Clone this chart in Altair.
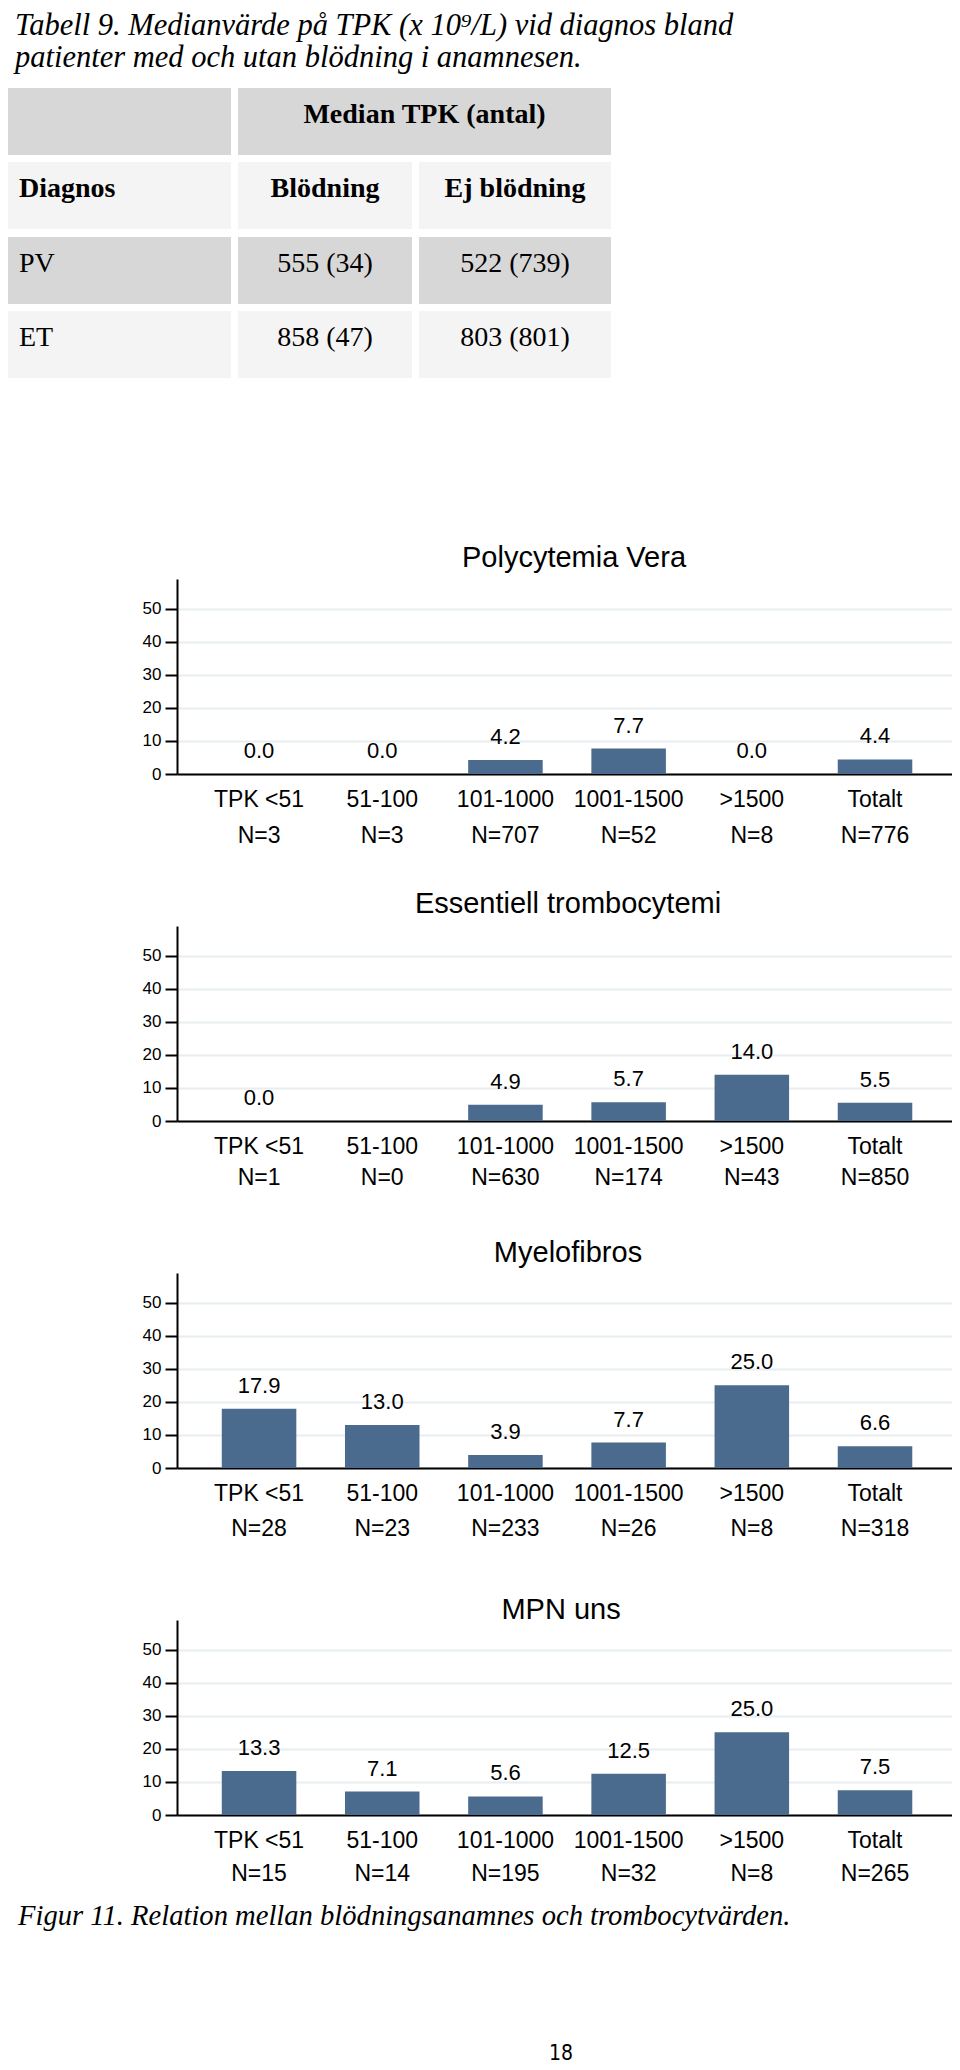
import altair as alt
import pandas as pd

# ---------------- data ----------------
categories = ["TPK <51", "51-100", "101-1000", "1001-1500", ">1500", "Totalt"]
panel_titles = ["Polycytemia Vera", "Essentiell trombocytemi", "Myelofibros", "MPN uns"]

pv_values = [0.0, 0.0, 4.2, 7.7, 0.0, 4.4]
pv_n = [3, 3, 707, 52, 8, 776]
et_values = [0.0, None, 4.9, 5.7, 14.0, 5.5]
et_n = [1, 0, 630, 174, 43, 850]
mf_values = [17.9, 13.0, 3.9, 7.7, 25.0, 6.6]
mf_n = [28, 23, 233, 26, 8, 318]
mpn_values = [13.3, 7.1, 5.6, 12.5, 25.0, 7.5]
mpn_n = [15, 14, 195, 32, 8, 265]

y_ticks = [0, 10, 20, 30, 40, 50]

title_lines = [
    "Tabell 9. Medianvärde på TPK (x 10⁹/L) vid diagnos bland",
    "patienter med och utan blödning i anamnesen.",
]
table_group_header = "Median TPK (antal)"
table_col_headers = ["Diagnos", "Blödning", "Ej blödning"]
table_diagnoses = ["PV", "ET"]
table_bleeding = ["555 (34)", "858 (47)"]
table_no_bleeding = ["522 (739)", "803 (801)"]

caption = "Figur 11. Relation mellan blödningsanamnes och trombocytvärden."
page_number = "18"

# ---------------- style / layout ----------------
PLOT_LEFT = 177          # page x of the plot areas
TOP = 8                  # page y of the first view
PLOT_W = 775
PLOT_H = 195
YMAX = 59
SPACING = 152
HEADER_H = 419

BAR = "#4a6b8d"
GRID = "#e8eef0"
SANS = "Liberation Sans"
SERIF = "Liberation Serif"
GRAY = "#d7d7d7"
LIGHT = "#f4f4f4"

# table geometry (page coordinates)
col_edges = [(8, 231), (238, 412), (419, 611)]
row_edges = [(88, 155), (162, 229), (237, 304), (311, 378)]
row_fills = [GRAY, LIGHT, GRAY, LIGHT]
text_left_x = 19
baseline_off = 35


def rx(px):
    return px - PLOT_LEFT


def ry(py):
    return py - TOP


# ---------------- header (title + table) ----------------
rect_rows = []
for r, (y0, y1) in enumerate(row_edges):
    if r == 0:
        spans = [col_edges[0], (col_edges[1][0], col_edges[2][1])]
    else:
        spans = col_edges
    for (x0, x1) in spans:
        rect_rows.append({"x0": rx(x0), "x1": rx(x1), "y0": ry(y0), "y1": ry(y1), "fill": row_fills[r]})
rect_df = pd.DataFrame(rect_rows)

cells = alt.Chart(rect_df).mark_rect().encode(
    x=alt.X("x0:Q", scale=None), x2="x1:Q",
    y=alt.Y("y0:Q", scale=None), y2="y1:Q",
    color=alt.Color("fill:N", scale=None),
)

text_rows = []
c2 = (col_edges[1][0] + col_edges[1][1]) / 2
c3 = (col_edges[2][0] + col_edges[2][1]) / 2
cg = (col_edges[1][0] + col_edges[2][1]) / 2
text_rows.append({"t": table_group_header, "x": rx(cg), "y": ry(row_edges[0][0] + baseline_off), "a": "center", "w": "bold"})
text_rows.append({"t": table_col_headers[0], "x": rx(text_left_x), "y": ry(row_edges[1][0] + baseline_off), "a": "left", "w": "bold"})
text_rows.append({"t": table_col_headers[1], "x": rx(c2), "y": ry(row_edges[1][0] + baseline_off), "a": "center", "w": "bold"})
text_rows.append({"t": table_col_headers[2], "x": rx(c3), "y": ry(row_edges[1][0] + baseline_off), "a": "center", "w": "bold"})
for i, (d, b, nb) in enumerate(zip(table_diagnoses, table_bleeding, table_no_bleeding)):
    yb = ry(row_edges[2 + i][0] + baseline_off)
    text_rows.append({"t": d, "x": rx(text_left_x), "y": yb, "a": "left", "w": "normal"})
    text_rows.append({"t": b, "x": rx(c2), "y": yb, "a": "center", "w": "normal"})
    text_rows.append({"t": nb, "x": rx(c3), "y": yb, "a": "center", "w": "normal"})
tdf = pd.DataFrame(text_rows)


def table_text(align, weight):
    sub = tdf[(tdf.a == align) & (tdf.w == weight)]
    return alt.Chart(sub).mark_text(
        align=align, baseline="alphabetic", font=SERIF, fontSize=28,
        fontWeight=weight, color="black",
    ).encode(x=alt.X("x:Q", scale=None), y=alt.Y("y:Q", scale=None), text="t:N")


title_df = pd.DataFrame({"t": title_lines, "y": [ry(35), ry(67)]})
title_text = alt.Chart(title_df).mark_text(
    align="left", baseline="alphabetic", font=SERIF, fontSize=30.5,
    fontStyle="italic", color="black",
).encode(x=alt.value(rx(15)), y=alt.Y("y:Q", scale=None), text="t:N")

header = alt.layer(
    cells,
    table_text("center", "bold"), table_text("left", "bold"),
    table_text("center", "normal"), table_text("left", "normal"),
    title_text,
).properties(width=PLOT_W, height=HEADER_H)


# ---------------- bar panels ----------------
def y_axis():
    return alt.Axis(
        values=y_ticks, title=None, grid=True, gridColor=GRID, gridWidth=2,
        domainColor="black", domainWidth=2, tickColor="black", tickWidth=2,
        tickSize=12, labelFont=SANS, labelFontSize=17, labelColor="black",
        labelPadding=4, labelOverlap=False, labelFlush=False,
    )


def x_axis():
    return alt.Axis(labels=False, ticks=False, title=None, grid=False,
                    domainColor="black", domainWidth=2)


def panel(title, values, ns, title_x, title_y, n_dy):
    df = pd.DataFrame({
        "cat": categories,
        "value": values,
        "nlab": [f"N={n}" for n in ns],
    })
    xscale = alt.Scale(paddingInner=0.395, paddingOuter=0.343, align=0.53)
    yscale = alt.Scale(domain=[0, YMAX], nice=False, zero=True)
    xenc = alt.X("cat:N", sort=categories, scale=xscale, axis=x_axis())
    yenc = alt.Y("value:Q", scale=yscale, axis=y_axis())
    bars = alt.Chart(df).mark_bar(color=BAR).encode(x=xenc, y=yenc)
    vals = alt.Chart(df).transform_filter("isValid(datum.value)").mark_text(
        baseline="alphabetic", dy=-16, font=SANS, fontSize=22, color="black",
    ).encode(
        x=xenc, y=yenc,
        text=alt.Text("value:Q", format=".1f"),
    )
    cats = alt.Chart(df).mark_text(
        baseline="alphabetic", font=SANS, fontSize=23, color="black",
    ).encode(x=xenc, y=alt.value(PLOT_H + 33), text="cat:N")
    nls = alt.Chart(df).mark_text(
        baseline="alphabetic", font=SANS, fontSize=23, color="black",
    ).encode(x=xenc, y=alt.value(PLOT_H + n_dy), text="nlab:N")
    ttl = alt.Chart(pd.DataFrame({"t": [title]})).mark_text(
        baseline="alphabetic", align="center", font=SANS, fontSize=29, color="black",
    ).encode(x=alt.value(title_x), y=alt.value(title_y), text="t:N")
    return alt.layer(bars, vals, cats, nls, ttl).properties(width=PLOT_W, height=PLOT_H)


p1 = panel(panel_titles[0], pv_values, pv_n, 397, -12, 69)
p2 = panel(panel_titles[1], et_values, et_n, 391, -13, 64)
p3 = panel(panel_titles[2], mf_values, mf_n, 391, -11, 68)
p4 = panel(panel_titles[3], mpn_values, mpn_n, 384, -1, 66)

# ---------------- footer ----------------
FOOT_TOP = TOP + HEADER_H + 4 * (SPACING + PLOT_H) + SPACING
cap = alt.Chart(pd.DataFrame({"t": [caption]})).mark_text(
    align="left", baseline="alphabetic", font=SERIF, fontSize=28.6,
    fontStyle="italic", color="black",
).encode(x=alt.value(rx(18)), y=alt.value(1925 - FOOT_TOP), text="t:N")
pn = alt.Chart(pd.DataFrame({"t": [page_number]})).mark_text(
    align="center", baseline="alphabetic", font="Liberation Sans Narrow, DejaVu Sans Condensed, Liberation Sans",
    fontSize=21, color="black",
).encode(x=alt.value(rx(561)), y=alt.value(2060 - FOOT_TOP), text="t:N")
footer = alt.layer(cap, pn).properties(width=PLOT_W, height=1)

chart = alt.vconcat(
    header, p1, p2, p3, p4, footer,
    spacing=SPACING, bounds="flush", padding=0,
).configure_view(stroke=None).properties(background="white")

chart.save("out.html", embed_options={"renderer": "svg", "actions": False})
